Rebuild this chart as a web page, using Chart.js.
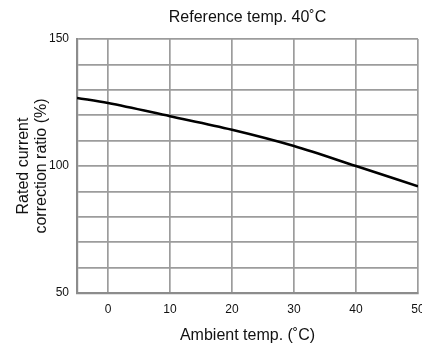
<!DOCTYPE html>
<html>
<head>
<meta charset="utf-8"/>
<style>
  html,body{margin:0;padding:0;background:#fff;}
  #wrap{width:422px;height:347px;}
</style>
</head>
<body>
<div id="wrap"><canvas id="c" width="422" height="347"></canvas></div>
<script src="https://cdn.jsdelivr.net/npm/chart.js@4.4.0/dist/chart.umd.min.js"></script>
<script>
// ambient temperature (°C) and rated current correction ratio (%)
const temps  = [-5, 0, 10, 20, 30, 40, 50];
const ratios = [126.8, 124.8, 119.6, 114.3, 107.9, 100, 92];
const xTicks = [0, 10, 20, 30, 40, 50];
const yTicks = [50, 60, 70, 80, 90, 100, 110, 120, 130, 140, 150];
const yLabels = [50, 100, 150];
const TITLE = 'Reference temp. 40˚C';

const FONT = "'Liberation Sans', Arial, Helvetica, sans-serif";
const GRID = '#9c9c9c';

// title centred over the plot area rather than the whole canvas
const areaTitle = {
  id: 'areaTitle',
  afterDraw(chart) {
    const { ctx, chartArea } = chart;
    ctx.save();
    ctx.font = '16px ' + FONT;
    ctx.fillStyle = '#111';
    ctx.textAlign = 'center';
    ctx.textBaseline = 'middle';
    ctx.fillText(TITLE, (chartArea.left + chartArea.right) / 2, 18);
    ctx.restore();
  }
};

new Chart(document.getElementById('c'), {
  type: 'line',
  data: {
    datasets: [{
      data: temps.map((t, i) => ({ x: t, y: ratios[i] })),
      borderColor: '#000',
      borderWidth: 2.6,
      pointRadius: 0,
      cubicInterpolationMode: 'monotone',
      fill: false,
    }]
  },
  plugins: [areaTitle],
  options: {
    responsive: false,
    animation: false,
    layout: { padding: { left: 0, right: 4, top: 39, bottom: 0 } },
    plugins: {
      legend: { display: false },
      tooltip: { enabled: false },
    },
    scales: {
      x: {
        type: 'linear', min: -5, max: 50,
        afterBuildTicks: s => { s.ticks = xTicks.map(v => ({ value: v })); },
        afterFit: s => { s.height = 54; s.paddingLeft = 0; s.paddingRight = 0; },
        ticks: { color: '#111', font: { family: FONT, size: 12 }, padding: 9, maxRotation: 0 },
        grid: { color: GRID, lineWidth: 1.7, drawTicks: false },
        border: { display: true, color: '#8c8c8c', width: 2.2 },
        title: {
          display: true, text: 'Ambient temp. (˚C)', color: '#111',
          font: { family: FONT, size: 16 }, padding: { top: 4, bottom: 2 },
        },
      },
      y: {
        type: 'linear', min: 50, max: 150,
        afterBuildTicks: s => { s.ticks = yTicks.map(v => ({ value: v })); },
        afterFit: s => { s.width = 77; s.paddingTop = 0; s.paddingBottom = 0; },
        ticks: {
          color: '#111', font: { family: FONT, size: 12 }, padding: 8,
          callback: v => yLabels.includes(v) ? String(v) : '',
        },
        grid: { color: GRID, lineWidth: 1.7, drawTicks: false },
        border: { display: true, color: '#8c8c8c', width: 2.2 },
        title: {
          display: true, text: ['Rated current', 'correction ratio (%)'], color: '#111',
          font: { family: FONT, size: 16, lineHeight: 1.12 }, padding: { top: 15, bottom: 0 },
        },
      },
    },
  },
});
</script>
</body>
</html>
